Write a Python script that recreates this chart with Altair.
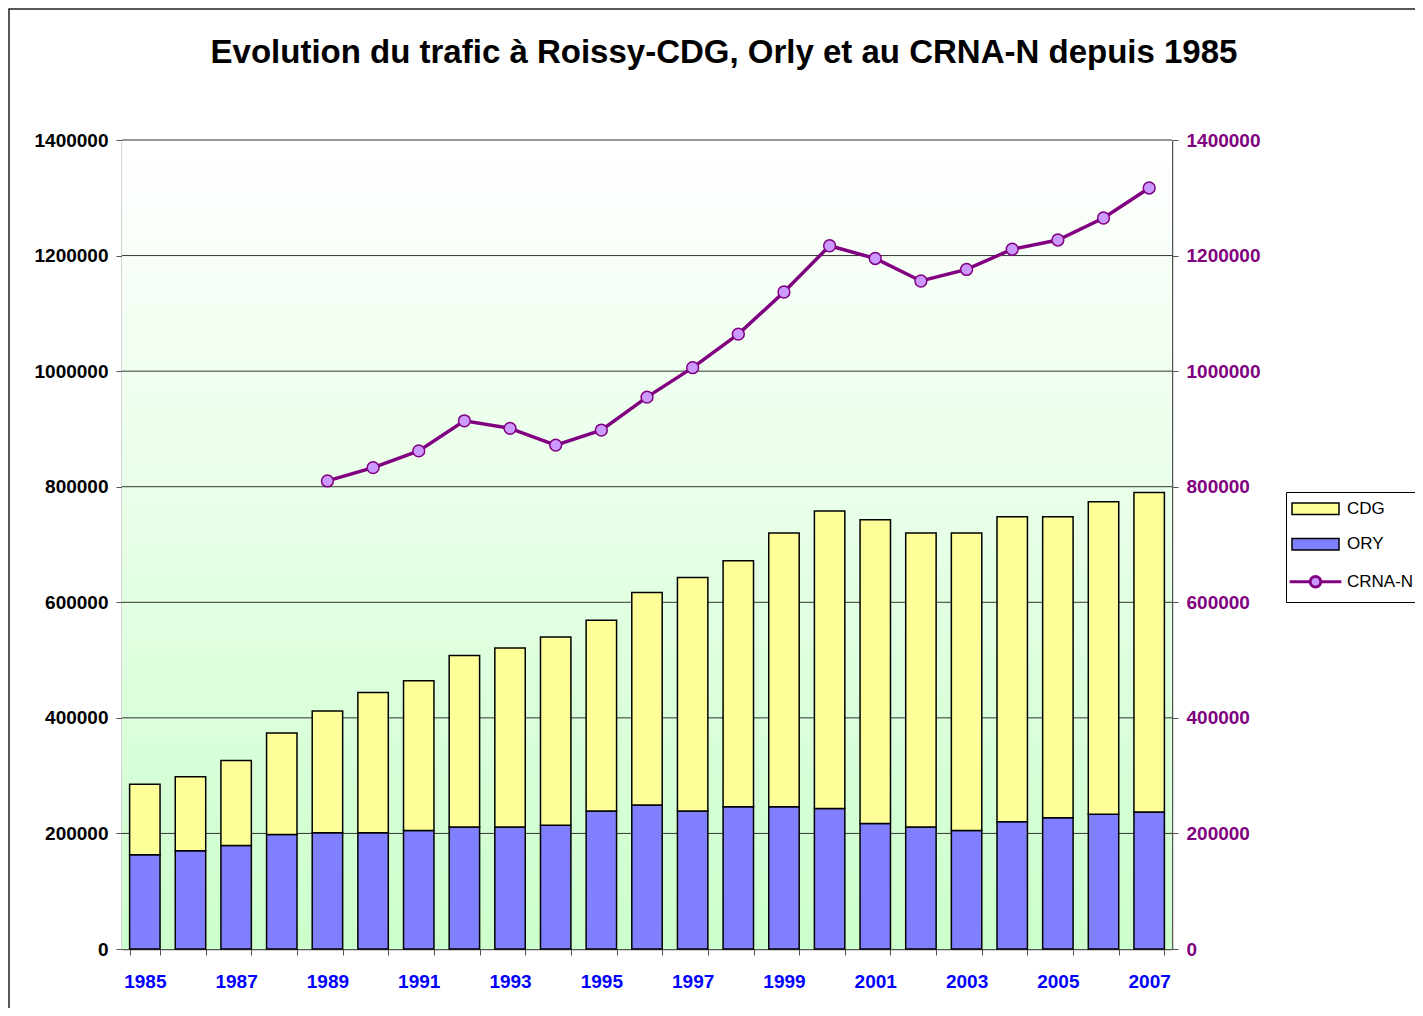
import altair as alt
import pandas as pd

FONT = "Liberation Sans"

# ---- data ----
years = list(range(1985, 2008))
ory = [163000, 170000, 179000, 198000, 201000, 201000, 205000, 211000, 211000, 214000,
       239000, 249000, 239000, 246000, 246000, 243000, 217000, 211000, 205000, 220000,
       227000, 233000, 237000]
cdg = [122000, 128000, 147000, 176000, 211000, 243000, 259000, 297000, 310000, 326000,
       330000, 368000, 404000, 426000, 474000, 515000, 526000, 509000, 515000, 528000,
       521000, 541000, 553000]
crna_years = list(range(1989, 2008))
crna = [810000, 833000, 862000, 914000, 901000, 872000, 898000, 955000, 1006000, 1064000,
        1137000, 1217000, 1195000, 1156000, 1176000, 1211000, 1227000, 1265000, 1317000]
y_ticks = [0, 200000, 400000, 600000, 800000, 1000000, 1200000, 1400000]
series_names = ["CDG", "ORY", "CRNA-N"]
series_colors = ["#ffff99", "#8080ff", "#cc99ff"]
title_text = "Evolution du trafic à Roissy-CDG, Orly et au CRNA-N depuis 1985"

# ---- tables ----
bars_df = pd.DataFrame({
    "year": years + years,
    "series": ["ORY"] * len(years) + ["CDG"] * len(years),
    "value": ory + cdg,
    "ord": [0] * len(years) + [1] * len(years),
})
line_df = pd.DataFrame({"year": crna_years, "crna": crna})
grid_df = pd.DataFrame({"v": y_ticks[1:]})
one = pd.DataFrame({"a": [0]})

W, H = 1050, 809

x_axis = alt.Axis(
    title=None,
    labelExpr="(datum.value - 1985) % 2 == 0 ? datum.label : ''",
    labelFont=FONT, labelFontSize=19, labelFontWeight="bold", labelColor="#0000ff",
    labelPadding=17, labelAngle=0, tickBand="extent", tickSize=6, tickColor="#555555",
    domainColor="#555555", domainWidth=1.5, grid=False,
)
x_enc = alt.X("year:O", axis=x_axis, scale=alt.Scale(paddingInner=1 / 3, paddingOuter=1 / 6))
y_scale = alt.Scale(domain=[0, 1400000], nice=False)


def y_axis(orient, color):
    return alt.Axis(
        title=None, orient=orient, values=y_ticks, format="d",
        labelFont=FONT, labelFontSize=19, labelFontWeight="bold", labelColor=color,
        labelPadding=8, tickSize=6, tickColor="#555555", domainColor="#555555",
        domainWidth=1.5, grid=False, labelFlush=False, labelOverlap=False,
    )


RECT = "M-2,-0.5L2,-0.5L2,0.5L-2,0.5Z"
LINE = ("M-2.2,0L-0.45,0M0.45,0L2.2,0M-0.45,0A0.45,0.45,0,1,1,0.45,0"
        "A0.45,0.45,0,1,1,-0.45,0Z")

legend = alt.Legend(
    title=None, orient="none", legendX=1164, legendY=352, direction="vertical",
    strokeColor="black", fillColor="white", padding=8.25,
    labelFont=FONT, labelFontSize=17, labelFontWeight="normal", labelColor="black",
    labelOffset=23, symbolOffset=12.75, rowPadding=16.5, symbolSize=552, labelLimit=300,
    symbolType=alt.ExprRef(expr=f"datum.value === 'CRNA-N' ? '{LINE}' : '{RECT}'"),
    symbolStrokeColor=alt.ExprRef(expr="datum.value === 'CRNA-N' ? '#800080' : 'black'"),
    symbolStrokeWidth=alt.ExprRef(expr="datum.value === 'CRNA-N' ? 3 : 1.5"),
    symbolOpacity=1,
)

bg = alt.Chart(one).mark_rect(
    color=alt.LinearGradient(
        gradient="linear", x1=0, x2=0, y1=0, y2=1,
        stops=[alt.GradientStop(offset=0, color="#ffffff"),
               alt.GradientStop(offset=1, color="#ccffcc")],
    )
).encode(x=alt.value(0), x2=alt.value("width"), y=alt.value(0), y2=alt.value("height"))

grid = alt.Chart(grid_df).mark_rule(color="#333333", strokeWidth=1).encode(
    y=alt.Y("v:Q", scale=y_scale, axis=None)
)

bars = alt.Chart(bars_df).mark_bar(stroke="black", strokeWidth=1.5, opacity=1).encode(
    x=x_enc,
    y=alt.Y("value:Q", stack="zero", scale=y_scale, axis=y_axis("left", "black")),
    color=alt.Color("series:N", scale=alt.Scale(domain=series_names, range=series_colors),
                    legend=legend),
    order=alt.Order("ord:Q"),
)

line = alt.Chart(line_df).mark_line(
    color="#800080", strokeWidth=3.5,
    point=alt.OverlayMarkDef(filled=True, fill="#cc99ff", stroke="#800080",
                             strokeWidth=1.5, size=140, opacity=1),
).encode(
    x=x_enc,
    y=alt.Y("crna:Q", scale=y_scale, axis=y_axis("right", "#800080")),
)

frame = alt.Chart(one).mark_rect(filled=False, stroke="#222222", strokeWidth=1.5).encode(
    x=alt.value(-113), y=alt.value(-131), x2=alt.value(2000), y2=alt.value(2000)
)

chart = alt.layer(bg, grid, bars, line, frame).resolve_axis(y="independent").properties(
    width=W, height=H,
    autosize=alt.AutoSizeParams(type="none"),
    padding={"left": 114, "top": 132, "right": 243, "bottom": 59},
    title=alt.TitleParams(
        title_text, font=FONT, fontSize=33, fontWeight="bold", color="black",
        anchor="middle", frame="group", dx=77, offset=-88, baseline="alphabetic",
    ),
).configure_view(strokeWidth=0)

chart.save("out.html", embed_options={"renderer": "svg", "actions": False})
